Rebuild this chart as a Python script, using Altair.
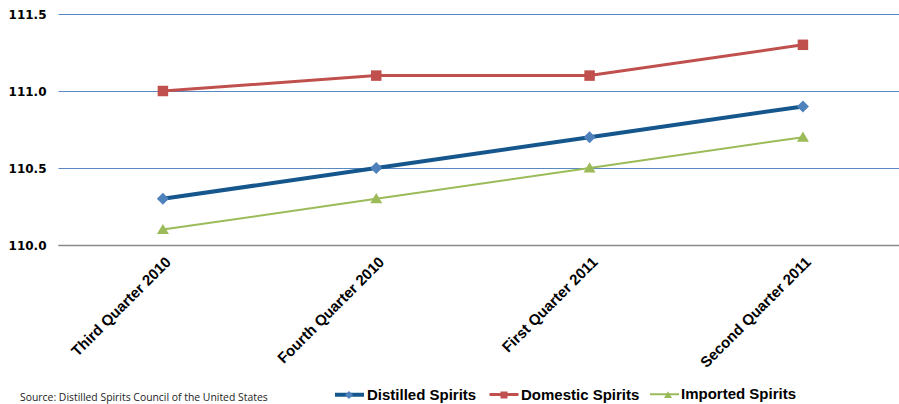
import altair as alt
import pandas as pd

quarters = ["Third Quarter 2010", "Fourth Quarter 2010", "First Quarter 2011", "Second Quarter 2011"]
series = ["Distilled Spirits", "Domestic Spirits", "Imported Spirits"]
distilled = [110.3, 110.5, 110.7, 110.9]
domestic = [111.0, 111.1, 111.1, 111.3]
imported = [110.1, 110.3, 110.5, 110.7]
y_ticks = [110.0, 110.5, 111.0, 111.5]

marker_colors = ["#4f81bd", "#c0504d", "#9bbb59"]
line_colors = ["#15568c", "#c0504d", "#9bbb59"]
line_widths = [4, 2, 2]
# marker outlines in a -1..1 box: diamond, square, triangle
marker_paths = [
    "M0,-0.4L0.4,0L0,0.4L-0.4,0Z",
    "M-0.35,-0.35H0.35V0.35H-0.35Z",
    "M0,-0.38L0.4,0.3H-0.4Z",
]

rows = []
for name, vals in zip(series, [distilled, domestic, imported]):
    for q, v in zip(quarters, vals):
        rows.append({"quarter": q, "series": name, "line_series": name, "value": v})
df = pd.DataFrame(rows)

legend_font = "Liberation Sans"
legend_x = 275
legend_common = dict(
    title=None,
    orient="none",
    direction="horizontal",
    legendX=legend_x,
    padding=0,
    labelFont=legend_font,
    labelFontSize=15,
    labelFontWeight="bold",
    labelColor="#000000",
    columnPadding=6,
)

x_enc = alt.X(
    "quarter:N",
    sort=quarters,
    scale=alt.Scale(type="point", padding=0.471, align=0.522),
    axis=alt.Axis(
        title=None,
        labelAngle=-45,
        labelAlign="right",
        labelBaseline="top",
        labelFont="Liberation Sans",
        labelFontSize=15,
        labelFontWeight="bold",
        labelColor="#000000",
        labelPadding=9,
        ticks=False,
        grid=False,
        domainColor="#8a8a8a",
        domainWidth=1.5,
    ),
)
y_enc = alt.Y(
    "value:Q",
    scale=alt.Scale(domain=[110.0, 111.5], nice=False, zero=False),
    axis=alt.Axis(
        title=None,
        values=y_ticks,
        format=".1f",
        labelFont="DejaVu Sans",
        labelFontSize=12,
        labelFontWeight="bold",
        labelColor="#000000",
        labelPadding=12,
        ticks=False,
        domain=False,
        grid=True,
        gridColor="#5a89c2",
        gridWidth=1,
    ),
)

lines = alt.Chart(df).mark_line().encode(
    x=x_enc,
    y=y_enc,
    stroke=alt.Stroke(
        "line_series:N",
        scale=alt.Scale(range=line_colors),
        legend=alt.Legend(
            legendY=364,
            symbolType="stroke",
            symbolSize=841,
            labelOffset=1,
            **legend_common,
        ),
    ),
    strokeWidth=alt.StrokeWidth("line_series:N", scale=alt.Scale(range=line_widths)),
)

points = alt.Chart(df).mark_point(filled=True, opacity=1, size=900, strokeWidth=0).encode(
    x=x_enc,
    y=y_enc,
    color=alt.Color(
        "series:N",
        scale=alt.Scale(range=marker_colors),
        legend=alt.Legend(
            legendY=371,
            symbolSize=400,
            symbolStrokeWidth=0,
            symbolOpacity=1,
            symbolOffset=6,
            labelOffset=13,
            labelOpacity=0,
            zindex=2,
            **legend_common,
        ),
    ),
    shape=alt.Shape("series:N", scale=alt.Scale(range=marker_paths)),
)

chart = (
    alt.layer(lines, points)
    .properties(
        width=841,
        height=231,
        autosize=alt.AutoSizeParams(type="none"),
        padding={"left": 58, "top": 14, "right": 0, "bottom": 159},
        title=alt.TitleParams(
            text="Source: Distilled Spirits Council of the United States",
            orient="bottom",
            anchor="start",
            font="Open Sans",
            fontSize=10.4,
            fontWeight="normal",
            color="#222222",
            dx=12,
            dy=-10,
            offset=0,
        ),
    )
    .configure_view(stroke=None)
)

chart.save("out.html", embed_options={"renderer": "svg", "actions": False})
